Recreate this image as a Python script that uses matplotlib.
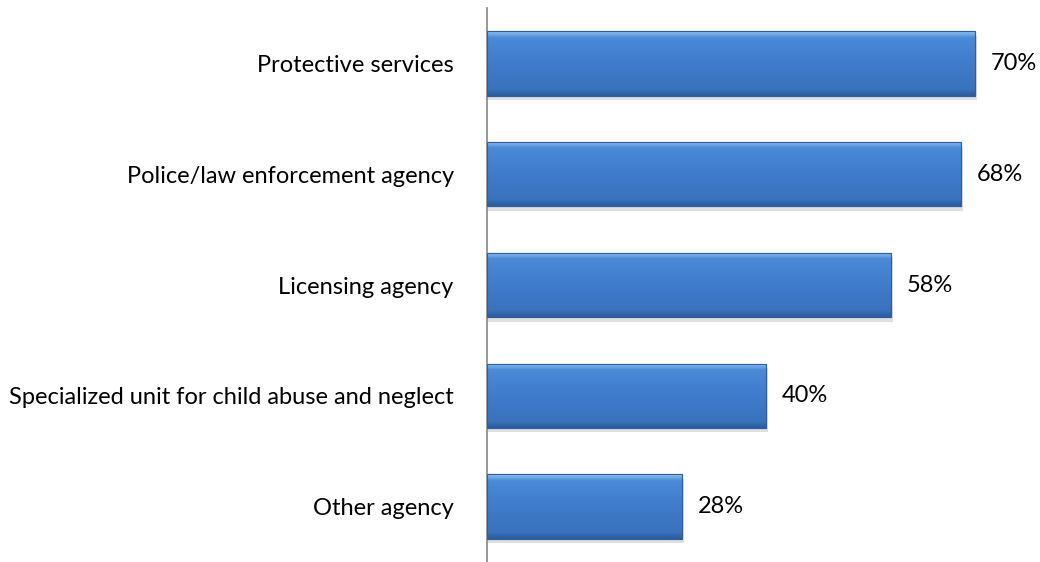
import numpy as np
import matplotlib.pyplot as plt
from matplotlib.colors import LinearSegmentedColormap

# data
categories = ["Protective services", "Police/law enforcement agency", "Licensing agency",
              "Specialized unit for child abuse and neglect", "Other agency"]
values = [70, 68, 58, 40, 28]

plt.rcParams['font.family'] = ['Lato', 'DejaVu Sans']

fig = plt.figure(figsize=(10.4, 5.62), dpi=100)
ax = fig.add_axes([487 / 1040, 0, 553 / 1040, 554 / 562])

y = np.arange(len(categories))
bar_h = 0.58

# bevel-like vertical gradient for the bars (top light -> bottom dark)
cmap = LinearSegmentedColormap.from_list("bev", [
    (0.0, "#8cc0f0"), (0.10, "#4a8ad6"), (0.5, "#3f7ccb"),
    (0.90, "#3a72bd"), (1.0, "#2c5c9c")])
grad = np.linspace(0, 1, 100).reshape(-1, 1)

bars = ax.barh(y, values, height=bar_h, color="#3f7ccb", edgecolor="#2e5f9f",
               linewidth=0.8, zorder=2)
for b in bars:
    x0, y0 = b.get_x(), b.get_y()
    w, h = b.get_width(), b.get_height()
    # soft shadow
    ax.barh(y0 + h / 2 + 0.04, w + 0.25, height=h, left=x0, color="#000000",
            alpha=0.12, linewidth=0, zorder=1)
    im = ax.imshow(grad, cmap=cmap, aspect="auto", origin="upper",
                   extent=[x0, x0 + w, y0 + h, y0], zorder=3)
    im.set_clip_path(b)
    ax.add_patch(plt.Rectangle((x0, y0), w, h, fill=False, edgecolor="#2e5f9f",
                               linewidth=0.8, zorder=4))

for yi, v in zip(y, values):
    ax.text(v + 2.2, yi, f"{v}%", va="center", ha="left", fontsize=17, color="#000000")

ax.set_xlim(0, 79.3)
ax.set_ylim(len(categories) - 0.5, -0.5)
ax.set_yticks(y)
ax.set_yticklabels(categories, fontsize=17)
ax.tick_params(axis="y", length=0, pad=24)
ax.set_xticks([])
for s in ["top", "right", "bottom"]:
    ax.spines[s].set_visible(False)
ax.spines["left"].set_color("#868686")
ax.spines["left"].set_linewidth(1.2)
ax.patch.set_visible(False)

fig.savefig("out.png", dpi=100)
